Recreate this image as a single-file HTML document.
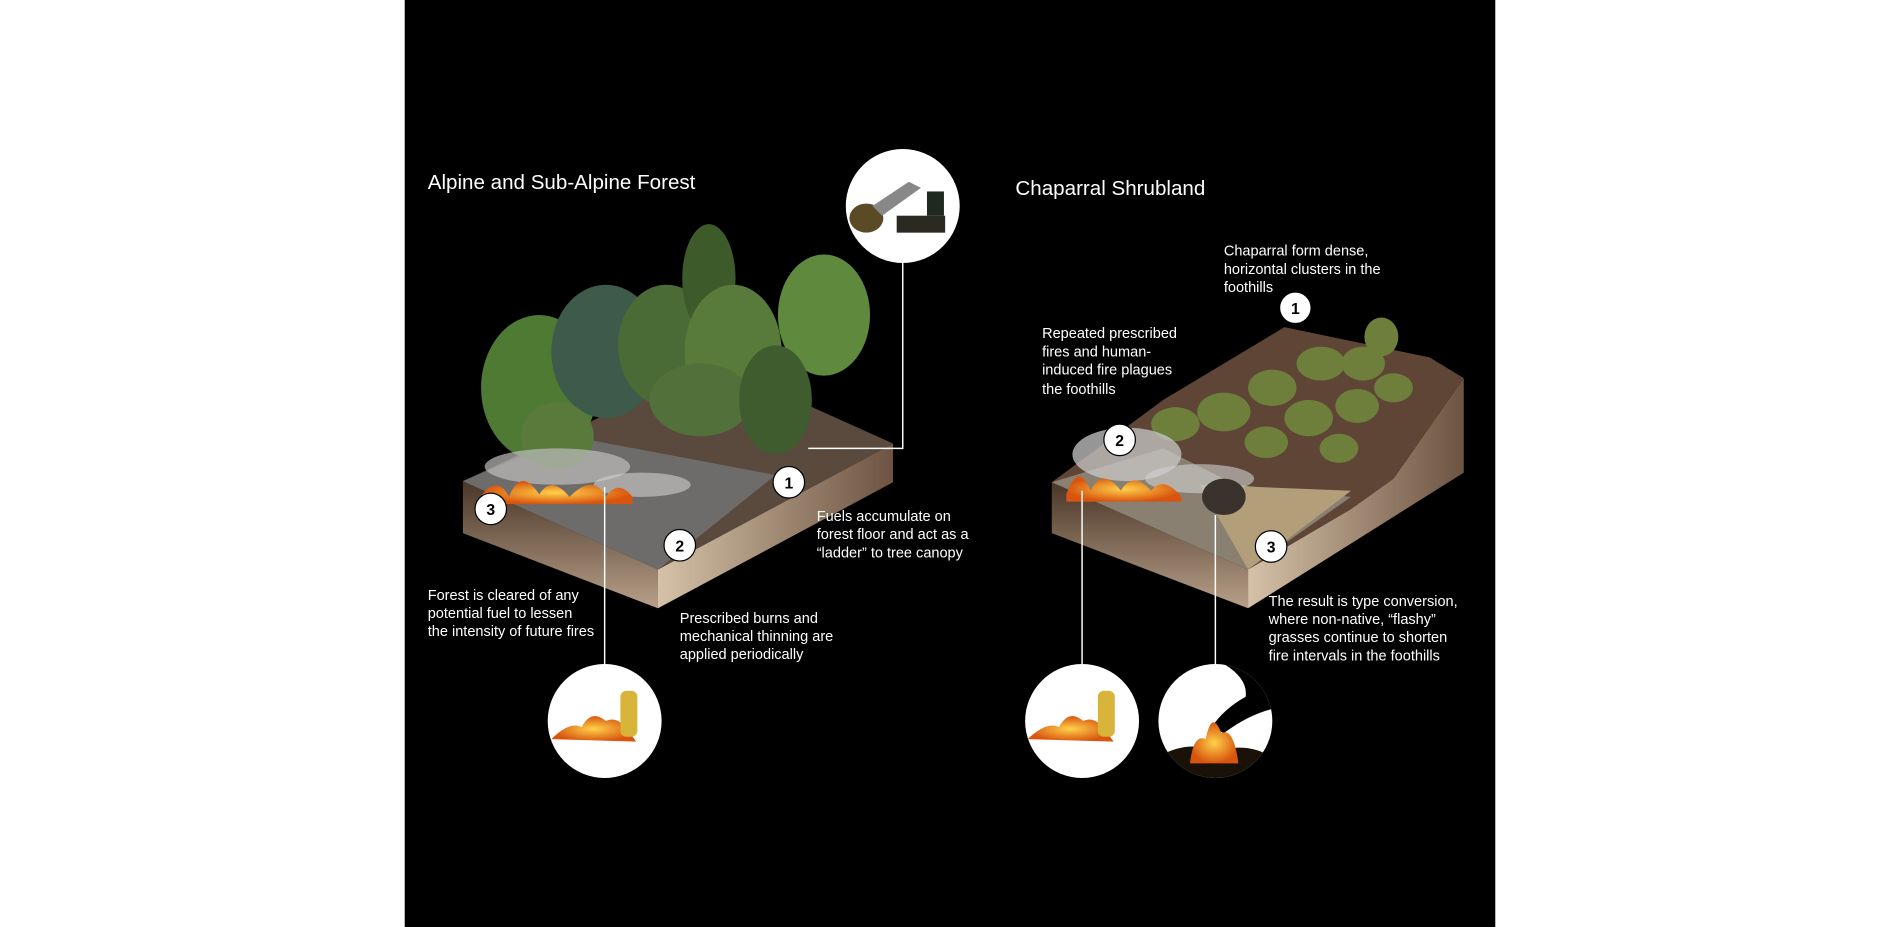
<!DOCTYPE html>
<html><head><meta charset="utf-8"><style>
html,body{margin:0;padding:0;background:#fff;}
svg{display:block;}
text{font-family:"Liberation Sans Narrow","Liberation Sans",sans-serif;fill:#fff;}
.t{font-size:12px;}
.h{font-size:17px;}
.n{font-size:13px;fill:#000;font-weight:bold;text-anchor:middle;}
</style></head><body>
<svg width="1900" height="927" viewBox="0 0 1568 765" preserveAspectRatio="none">
<defs>
<linearGradient id="side" x1="0" y1="0" x2="0" y2="1"><stop offset="0" stop-color="#4a3628"/><stop offset="1" stop-color="#b8a089"/></linearGradient>
<linearGradient id="side2" x1="0" y1="0" x2="1" y2="0"><stop offset="0" stop-color="#d5c2a8"/><stop offset="1" stop-color="#6d5442"/></linearGradient>
<radialGradient id="fire"><stop offset="0" stop-color="#ffd24a"/><stop offset="1" stop-color="#d9550f"/></radialGradient>
<clipPath id="c3"><circle cx="1003" cy="595" r="47"/></clipPath>
</defs>
<rect x="0" y="0" width="1568" height="765" fill="#fff"/>
<rect x="334" y="0" width="900" height="765" fill="#000"/>

<text class="h" x="353" y="156">Alpine and Sub-Alpine Forest</text>
<text class="h" x="838" y="161">Chaparral Shrubland</text>

<!-- LEFT BLOCK -->
<polygon points="382,397 543,470 543,502 382,440" fill="url(#side)"/>
<polygon points="543,470 737,366 737,398 543,502" fill="url(#side2)"/>
<polygon points="382,397 590,300 737,366 543,470" fill="#5a4a3e"/>
<polygon points="382,397 470,360 640,392 543,470" fill="#6e6c6a"/>
<g>
<ellipse cx="445" cy="320" rx="48" ry="60" fill="#4f7a34"/>
<ellipse cx="500" cy="290" rx="45" ry="55" fill="#3d5a4a"/>
<ellipse cx="550" cy="285" rx="40" ry="50" fill="#4a6a36"/>
<ellipse cx="585" cy="230" rx="22" ry="45" fill="#3c5a2a"/>
<ellipse cx="605" cy="290" rx="40" ry="55" fill="#587a3a"/>
<ellipse cx="680" cy="260" rx="38" ry="50" fill="#5f8a3e"/>
<ellipse cx="578" cy="330" rx="42" ry="30" fill="#52703a"/>
<ellipse cx="640" cy="330" rx="30" ry="45" fill="#3e5c2e"/>
<ellipse cx="460" cy="360" rx="30" ry="28" fill="#5a7a3c"/>
</g>
<ellipse cx="460" cy="385" rx="60" ry="15" fill="#bdbdbd" opacity="0.7"/>
<ellipse cx="530" cy="400" rx="40" ry="10" fill="#cfcfcf" opacity="0.6"/>
<path d="M395,412 Q410,390 420,410 Q430,385 445,408 Q455,392 470,410 Q490,390 500,410 Q510,395 522,410 L522,416 L395,416Z" fill="url(#fire)"/>

<!-- RIGHT BLOCK -->
<polygon points="868,398 1030,470 1030,502 868,440" fill="url(#side)"/>
<polygon points="1030,470 1115,420 1150,395 1208,312 1208,390 1030,502" fill="url(#side2)"/>
<polygon points="868,398 960,330 1060,270 1180,295 1208,312 1150,395 1115,420 1030,470" fill="#5e4536"/>
<polygon points="868,398 960,370 1020,400 1115,410 1030,470" fill="#8a8072"/>
<polygon points="990,400 1115,405 1030,470" fill="#b39e7a"/>
<g fill="#6d7f3a">
<ellipse cx="1010" cy="340" rx="22" ry="16"/><ellipse cx="1050" cy="320" rx="20" ry="15"/>
<ellipse cx="1090" cy="300" rx="20" ry="14"/><ellipse cx="1125" cy="300" rx="18" ry="14"/>
<ellipse cx="1080" cy="345" rx="20" ry="15"/><ellipse cx="1120" cy="335" rx="18" ry="14"/>
<ellipse cx="1150" cy="320" rx="16" ry="12"/><ellipse cx="1045" cy="365" rx="18" ry="13"/>
<ellipse cx="1105" cy="370" rx="16" ry="12"/><ellipse cx="1140" cy="278" rx="14" ry="16"/>
<ellipse cx="970" cy="350" rx="20" ry="14"/>
</g>
<ellipse cx="930" cy="375" rx="45" ry="22" fill="#c8c8c8" opacity="0.75"/>
<ellipse cx="990" cy="395" rx="45" ry="12" fill="#d0d0d0" opacity="0.6"/>
<path d="M880,408 Q890,380 900,405 Q910,385 925,405 Q935,388 950,405 Q960,392 975,410 L975,414 L880,414Z" fill="url(#fire)"/>
<ellipse cx="1010" cy="410" rx="18" ry="15" fill="#3a332d"/>

<!-- connector lines -->
<g stroke="#fff" stroke-width="1.2" fill="none">
<polyline points="667,370 745,370 745,217"/>
<line x1="499" y1="402" x2="499" y2="548"/>
<line x1="893" y1="405" x2="893" y2="548"/>
<line x1="1003" y1="425" x2="1003" y2="548"/>
</g>

<!-- photo circles -->
<circle cx="745" cy="170" r="47" fill="#fff"/>
<g fill="#2a2a22"><ellipse cx="715" cy="180" rx="14" ry="12" fill="#5a4a26"/><rect x="740" y="178" width="40" height="14"/><path d="M720,170 L750,150 L760,155 L728,178Z" fill="#888"/><rect x="765" y="158" width="14" height="20" fill="#1e2a1e"/></g>
<circle cx="499" cy="595" r="47" fill="#fff"/>
<path d="M455,610 Q470,595 480,600 Q488,585 500,595 Q510,590 520,605 L525,612 Z" fill="url(#fire)"/>
<rect x="512" y="570" width="14" height="38" rx="5" fill="#d8b43a"/>
<circle cx="893" cy="595" r="47" fill="#fff"/>
<path d="M848,610 Q864,595 874,600 Q882,585 894,595 Q904,590 914,605 L919,612 Z" fill="url(#fire)"/>
<rect x="906" y="570" width="14" height="38" rx="5" fill="#d8b43a"/>
<circle cx="1003" cy="595" r="47" fill="#fff"/>
<g clip-path="url(#c3)">
<path d="M1010,548 Q1030,560 1028,575 Q1010,585 1000,600 L1010,605 Q1030,590 1050,585 L1050,548Z" fill="#000"/>
<path d="M955,625 Q980,610 1003,620 Q1030,612 1050,625 L1050,645 L955,645Z" fill="#1a1208"/>
<path d="M982,630 Q985,605 995,610 Q1000,585 1008,605 Q1018,600 1022,630Z" fill="url(#fire)"/>
</g>

<!-- number circles -->
<g stroke="#000" stroke-width="1" fill="#fff">
<circle cx="651" cy="398" r="13"/><circle cx="561" cy="450" r="13"/><circle cx="405" cy="420" r="13"/>
<circle cx="1069" cy="254" r="13"/><circle cx="924" cy="363" r="13"/><circle cx="1049" cy="451" r="13"/>
</g>
<text class="n" x="651" y="403">1</text><text class="n" x="561" y="455">2</text><text class="n" x="405" y="425">3</text>
<text class="n" x="1069" y="259">1</text><text class="n" x="924" y="368">2</text><text class="n" x="1049" y="456">3</text>

<!-- labels -->
<text class="t" x="674" y="430">Fuels accumulate on</text>
<text class="t" x="674" y="445">forest floor and act as a</text>
<text class="t" x="674" y="460">“ladder” to tree canopy</text>
<text class="t" x="353" y="495">Forest is cleared of any</text>
<text class="t" x="353" y="510">potential fuel to lessen</text>
<text class="t" x="353" y="525">the intensity of future fires</text>
<text class="t" x="561" y="514">Prescribed burns and</text>
<text class="t" x="561" y="529">mechanical thinning are</text>
<text class="t" x="561" y="544">applied periodically</text>
<text class="t" x="1010" y="211">Chaparral form dense,</text>
<text class="t" x="1010" y="226">horizontal clusters in the</text>
<text class="t" x="1010" y="241">foothills</text>
<text class="t" x="860" y="279">Repeated prescribed</text>
<text class="t" x="860" y="294">fires and human-</text>
<text class="t" x="860" y="309">induced fire plagues</text>
<text class="t" x="860" y="325">the foothills</text>
<text class="t" x="1047" y="500">The result is type conversion,</text>
<text class="t" x="1047" y="515">where non-native, “flashy”</text>
<text class="t" x="1047" y="530">grasses continue to shorten</text>
<text class="t" x="1047" y="545">fire intervals in the foothills</text>
</svg>
</body></html>
